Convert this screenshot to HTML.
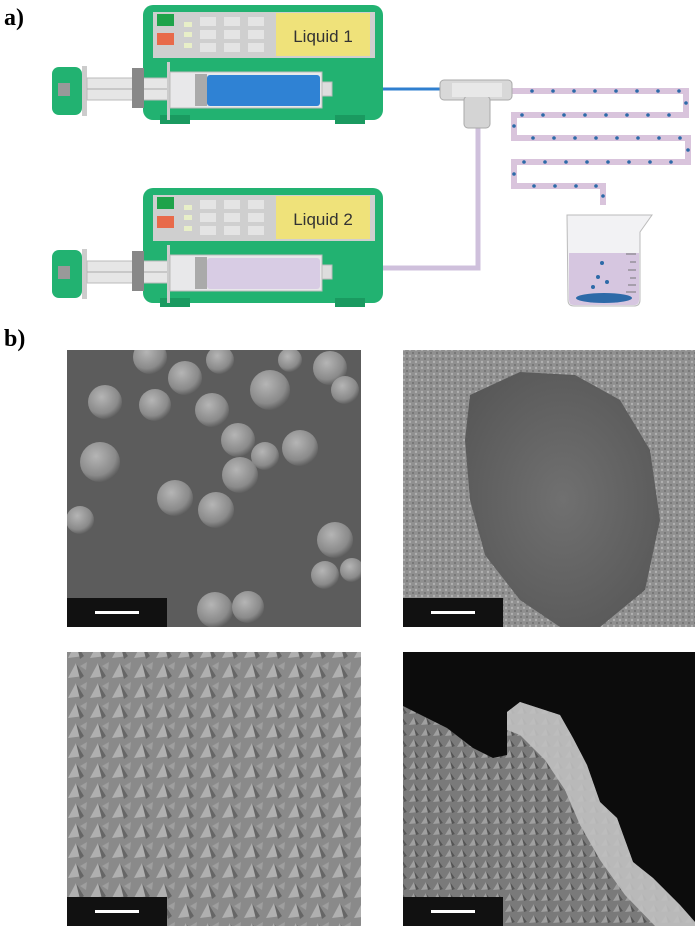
<!DOCTYPE html>
<html><head><meta charset="utf-8"><style>
body{margin:0;background:#fff;width:700px;height:929px;overflow:hidden}
svg{display:block}
</style></head><body>
<svg width="700" height="929" xmlns="http://www.w3.org/2000/svg">
<defs>
<radialGradient id="sph" cx="0.4" cy="0.35" r="0.7"><stop offset="0" stop-color="#b5b5b5"/><stop offset="0.7" stop-color="#8a8a8a"/><stop offset="1" stop-color="#555"/></radialGradient>
<radialGradient id="hole" cx="0.5" cy="0.5" r="0.6"><stop offset="0" stop-color="#707070"/><stop offset="1" stop-color="#585858"/></radialGradient>
<pattern id="tex" width="22" height="20" patternUnits="userSpaceOnUse">
<rect width="22" height="20" fill="#8a8a8a"/><polygon points="2,18 10,3 18,16" fill="#b0b0b0"/><polygon points="10,3 18,16 14,19" fill="#666"/><polygon points="14,6 21,2 20,10" fill="#9e9e9e"/></pattern>
<pattern id="tex2" width="12" height="11" patternUnits="userSpaceOnUse">
<rect width="12" height="11" fill="#7a7a7a"/><polygon points="1,10 6,2 11,9" fill="#a0a0a0"/><polygon points="6,2 11,9 8,10" fill="#555"/></pattern>
<pattern id="grain" width="6" height="6" patternUnits="userSpaceOnUse"><rect width="6" height="6" fill="#909090"/><circle cx="2" cy="2" r="1.2" fill="#b0b0b0"/><circle cx="5" cy="5" r="1" fill="#707070"/></pattern>
<clipPath id="c1"><rect x="67" y="350" width="294" height="277"/></clipPath>
<clipPath id="c4"><rect x="403" y="652" width="292" height="274"/></clipPath>
</defs>
<text x="4" y="25" font-family="Liberation Serif" font-weight="bold" font-size="24">a)</text>
<text x="4" y="346" font-family="Liberation Serif" font-weight="bold" font-size="24">b)</text>

<line x1="330" y1="89" x2="445" y2="89" stroke="#2f7fcf" stroke-width="3"/>
<polyline points="330,268 478,268 478,125" fill="none" stroke="#cfc0dc" stroke-width="5"/>
<polyline points="512,91 686,91 686,115 514,115 514,138 688,138 688,162 514,162 514,186 603,186 603,205" fill="none" stroke="#d9c4dc" stroke-width="6"/>
<g fill="#2d6aa8">
<circle cx="532" cy="91" r="1.8"/><circle cx="553" cy="91" r="1.8"/><circle cx="574" cy="91" r="1.8"/><circle cx="595" cy="91" r="1.8"/><circle cx="616" cy="91" r="1.8"/><circle cx="637" cy="91" r="1.8"/><circle cx="658" cy="91" r="1.8"/><circle cx="679" cy="91" r="1.8"/>
<circle cx="686" cy="103" r="1.8"/>
<circle cx="522" cy="115" r="1.8"/><circle cx="543" cy="115" r="1.8"/><circle cx="564" cy="115" r="1.8"/><circle cx="585" cy="115" r="1.8"/><circle cx="606" cy="115" r="1.8"/><circle cx="627" cy="115" r="1.8"/><circle cx="648" cy="115" r="1.8"/><circle cx="669" cy="115" r="1.8"/>
<circle cx="514" cy="126" r="1.8"/>
<circle cx="533" cy="138" r="1.8"/><circle cx="554" cy="138" r="1.8"/><circle cx="575" cy="138" r="1.8"/><circle cx="596" cy="138" r="1.8"/><circle cx="617" cy="138" r="1.8"/><circle cx="638" cy="138" r="1.8"/><circle cx="659" cy="138" r="1.8"/><circle cx="680" cy="138" r="1.8"/>
<circle cx="688" cy="150" r="1.8"/>
<circle cx="524" cy="162" r="1.8"/><circle cx="545" cy="162" r="1.8"/><circle cx="566" cy="162" r="1.8"/><circle cx="587" cy="162" r="1.8"/><circle cx="608" cy="162" r="1.8"/><circle cx="629" cy="162" r="1.8"/><circle cx="650" cy="162" r="1.8"/><circle cx="671" cy="162" r="1.8"/>
<circle cx="514" cy="174" r="1.8"/>
<circle cx="534" cy="186" r="1.8"/><circle cx="555" cy="186" r="1.8"/><circle cx="576" cy="186" r="1.8"/><circle cx="596" cy="186" r="1.8"/><circle cx="603" cy="196" r="1.8"/>
</g>
<rect x="440" y="80" width="72" height="20" rx="4" fill="#d8d8d8" stroke="#aaa"/>
<rect x="464" y="96" width="26" height="32" rx="4" fill="#d4d4d4" stroke="#aaa"/>
<rect x="452" y="83" width="50" height="14" fill="#e8e8e8"/>

<path d="M567,215 L652,215 L640,232 L640,300 Q640,306 634,306 L574,306 Q568,306 568,300 Z" fill="#f2f2f4" stroke="#bbb"/>
<path d="M569,253 L639,253 L639,300 Q639,305 634,305 L574,305 Q569,305 569,300 Z" fill="#d6c6e0"/>
<g stroke="#777" stroke-width="1"><line x1="626" y1="254" x2="636" y2="254"/><line x1="630" y1="262" x2="636" y2="262"/><line x1="628" y1="270" x2="636" y2="270"/><line x1="630" y1="278" x2="636" y2="278"/><line x1="628" y1="285" x2="636" y2="285"/><line x1="626" y1="292" x2="636" y2="292"/></g>
<g fill="#2d6aa8"><circle cx="602" cy="263" r="2"/><circle cx="598" cy="277" r="2"/><circle cx="607" cy="282" r="2"/><circle cx="593" cy="287" r="2"/>
<ellipse cx="604" cy="298" rx="28" ry="5"/></g>

<g>
<rect x="143" y="5" width="240" height="115" rx="10" fill="#22b271"/>
<rect x="160" y="115" width="30" height="9" fill="#1a9a60"/><rect x="335" y="115" width="30" height="9" fill="#1a9a60"/>
<rect x="153" y="12" width="222" height="46" fill="#cfcfcf"/>
<rect x="157" y="14" width="17" height="12" fill="#1fa34a"/><rect x="157" y="33" width="17" height="12" fill="#e86a4a"/>
<rect x="184" y="22" width="8" height="5" fill="#e8efc8"/><rect x="184" y="32" width="8" height="5" fill="#e8efc8"/><rect x="184" y="43" width="8" height="5" fill="#e8efc8"/>
<g fill="#e4e4e4"><rect x="200" y="17" width="16" height="9"/><rect x="224" y="17" width="16" height="9"/><rect x="248" y="17" width="16" height="9"/><rect x="200" y="30" width="16" height="9"/><rect x="224" y="30" width="16" height="9"/><rect x="248" y="30" width="16" height="9"/><rect x="200" y="43" width="16" height="9"/><rect x="224" y="43" width="16" height="9"/><rect x="248" y="43" width="16" height="9"/></g>
<rect x="276" y="13" width="94" height="43" fill="#efe27a"/>
<text x="323" y="42" text-anchor="middle" font-family="Liberation Sans" font-size="17" fill="#333">Liquid 1</text>
<rect x="52" y="67" width="30" height="48" rx="7" fill="#22b271"/><rect x="58" y="83" width="12" height="13" fill="#999"/>
<rect x="82" y="66" width="5" height="50" fill="#ccc"/>
<rect x="87" y="78" width="85" height="22" fill="#e6e6e6" stroke="#bbb"/><line x1="87" y1="89" x2="172" y2="89" stroke="#aaa"/>
<rect x="132" y="68" width="12" height="40" fill="#888"/>
<rect x="167" y="62" width="3" height="58" fill="#ccc"/>
<rect x="170" y="72" width="152" height="36" fill="#e8e8ea" stroke="#bbb"/>
<rect x="195" y="74" width="12" height="32" fill="#aaa"/>
<rect x="207" y="75" width="113" height="31" rx="3" fill="#2f82d4"/>
<rect x="322" y="82" width="10" height="14" fill="#ddd" stroke="#bbb"/>
</g>
<g transform="translate(0,183)">
<rect x="143" y="5" width="240" height="115" rx="10" fill="#22b271"/>
<rect x="160" y="115" width="30" height="9" fill="#1a9a60"/><rect x="335" y="115" width="30" height="9" fill="#1a9a60"/>
<rect x="153" y="12" width="222" height="46" fill="#cfcfcf"/>
<rect x="157" y="14" width="17" height="12" fill="#1fa34a"/><rect x="157" y="33" width="17" height="12" fill="#e86a4a"/>
<rect x="184" y="22" width="8" height="5" fill="#e8efc8"/><rect x="184" y="32" width="8" height="5" fill="#e8efc8"/><rect x="184" y="43" width="8" height="5" fill="#e8efc8"/>
<g fill="#e4e4e4"><rect x="200" y="17" width="16" height="9"/><rect x="224" y="17" width="16" height="9"/><rect x="248" y="17" width="16" height="9"/><rect x="200" y="30" width="16" height="9"/><rect x="224" y="30" width="16" height="9"/><rect x="248" y="30" width="16" height="9"/><rect x="200" y="43" width="16" height="9"/><rect x="224" y="43" width="16" height="9"/><rect x="248" y="43" width="16" height="9"/></g>
<rect x="276" y="13" width="94" height="43" fill="#efe27a"/>
<rect x="52" y="67" width="30" height="48" rx="7" fill="#22b271"/><rect x="58" y="83" width="12" height="13" fill="#999"/>
<rect x="82" y="66" width="5" height="50" fill="#ccc"/>
<rect x="87" y="78" width="85" height="22" fill="#e6e6e6" stroke="#bbb"/><line x1="87" y1="89" x2="172" y2="89" stroke="#aaa"/>
<rect x="132" y="68" width="12" height="40" fill="#888"/>
<rect x="167" y="62" width="3" height="58" fill="#ccc"/>
<rect x="170" y="72" width="152" height="36" fill="#e8e8ea" stroke="#bbb"/>
<rect x="195" y="74" width="12" height="32" fill="#aaa"/>
<rect x="207" y="75" width="113" height="31" rx="3" fill="#d8cce4"/>
<rect x="322" y="82" width="10" height="14" fill="#ddd" stroke="#bbb"/>
<text x="323" y="42" text-anchor="middle" font-family="Liberation Sans" font-size="17" fill="#333">Liquid 2</text>
</g>

<rect x="67" y="350" width="294" height="277" fill="#5c5c5c"/>
<g fill="url(#sph)" clip-path="url(#c1)">
<circle cx="105" cy="402" r="17"/><circle cx="150" cy="357" r="17"/><circle cx="185" cy="378" r="17"/><circle cx="212" cy="410" r="17"/><circle cx="155" cy="405" r="16"/>
<circle cx="270" cy="390" r="20"/><circle cx="300" cy="448" r="18"/><circle cx="330" cy="368" r="17"/><circle cx="345" cy="390" r="14"/>
<circle cx="100" cy="462" r="20"/><circle cx="238" cy="440" r="17"/><circle cx="265" cy="456" r="14"/><circle cx="240" cy="475" r="18"/>
<circle cx="175" cy="498" r="18"/><circle cx="216" cy="510" r="18"/><circle cx="80" cy="520" r="14"/><circle cx="335" cy="540" r="18"/>
<circle cx="352" cy="570" r="12"/><circle cx="325" cy="575" r="14"/><circle cx="215" cy="610" r="18"/><circle cx="248" cy="607" r="16"/>
<circle cx="220" cy="360" r="14"/><circle cx="290" cy="360" r="12"/>
</g>
<rect x="67" y="598" width="100" height="29" fill="#111"/><rect x="95" y="611" width="44" height="3" fill="#fff"/>

<rect x="403" y="350" width="292" height="277" fill="url(#grain)"/>
<path d="M470,395 L520,372 L575,375 L620,400 L650,450 L660,520 L645,590 L600,627 L560,627 L520,600 L485,555 L470,500 L465,440 Z" fill="url(#hole)"/>
<rect x="403" y="598" width="100" height="29" fill="#111"/><rect x="431" y="611" width="44" height="3" fill="#fff"/>

<rect x="67" y="652" width="294" height="274" fill="url(#tex)"/>
<rect x="67" y="897" width="100" height="29" fill="#111"/><rect x="95" y="910" width="44" height="3" fill="#fff"/>

<g clip-path="url(#c4)">
<rect x="403" y="652" width="292" height="274" fill="url(#tex2)"/>
<path d="M403,652 L695,652 L695,922 L680,905 L653,878 L633,862 L617,818 L600,802 L587,765 L573,738 L560,715 L520,702 L507,712 L507,755 L493,758 L473,748 L447,728 L403,706 Z" fill="#0c0c0c"/>
<path d="M507,712 L520,702 L560,715 L573,738 L587,765 L600,802 L617,818 L633,862 L653,878 L680,905 L695,922 L695,926 L655,926 L625,895 L600,860 L580,825 L565,790 L545,760 L520,735 L507,730 Z" fill="#c0c0c0" opacity="0.9"/>
</g>
<rect x="403" y="897" width="100" height="29" fill="#111"/><rect x="431" y="910" width="44" height="3" fill="#fff"/>
</svg>
</body></html>
